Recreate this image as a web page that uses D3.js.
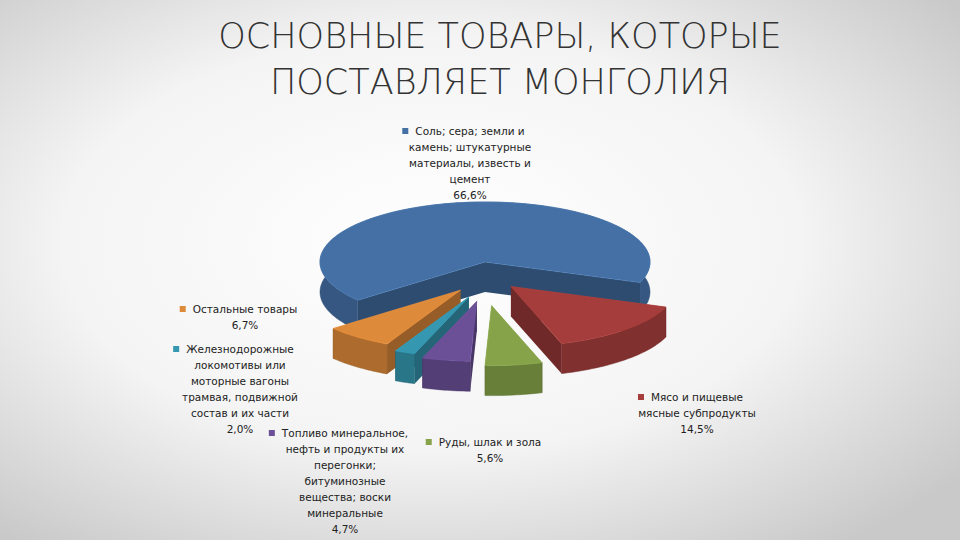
<!DOCTYPE html>
<html>
<head>
<meta charset="utf-8">
<script src="https://cdn.jsdelivr.net/npm/d3@7"></script>
<style>body{margin:0;}</style>
</head>
<body>
<script>
// данные
var names = ["Мясо и пищевые мясные субпродукты", "Руды, шлак и зола",
  "Топливо минеральное, нефть и продукты их перегонки; битуминозные вещества; воски минеральные",
  "Железнодорожные локомотивы или моторные вагоны трамвая, подвижной состав и их части",
  "Остальные товары", "Соль; сера; земли и камень; штукатурные материалы, известь и цемент"];
var values = [14.5, 5.6, 4.7, 2.0, 6.7, 66.6];
var labelLines = [
  ["Мясо и пищевые", "мясные субпродукты", "14,5%"],
  ["Руды, шлак и зола", "5,6%"],
  ["Топливо минеральное,", "нефть и продукты их", "перегонки;", "битуминозные", "вещества; воски", "минеральные", "4,7%"],
  ["Железнодорожные", "локомотивы или", "моторные вагоны", "трамвая, подвижной", "состав и их части", "2,0%"],
  ["Остальные товары", "6,7%"],
  ["Соль; сера; земли и", "камень; штукатурные", "материалы, известь и", "цемент", "66,6%"]
];
var colors = ["#a43d3b", "#86a34a", "#6b5097", "#3597b0", "#de8a3b", "#4470a6"];

var width = 960, height = 540;
var cx = 485, cy = 262, rx = 165, ry = 60, depth = 30;
var explode = [34, 44, 40, 38, 36, 0];
var labelPos = [[697, 401], [490, 446], [345, 437], [240, 353], [245, 313], [470, 135]];

var svg = d3.select("body").append("svg").attr("width", width).attr("height", height);
var defs = svg.append("defs");
var bg = defs.append("radialGradient").attr("id", "bg").attr("cx", "45%").attr("cy", "45%").attr("r", "70%");
bg.append("stop").attr("offset", "0%").attr("stop-color", "#ffffff");
bg.append("stop").attr("offset", "55%").attr("stop-color", "#f4f4f4");
bg.append("stop").attr("offset", "100%").attr("stop-color", "#c9c9c9");
svg.append("rect").attr("width", width).attr("height", height).attr("fill", "url(#bg)");

["ОСНОВНЫЕ ТОВАРЫ, КОТОРЫЕ", "ПОСТАВЛЯЕТ МОНГОЛИЯ"].forEach(function(s, k) {
  svg.append("text").attr("x", 500).attr("y", 48 + k * 46).attr("text-anchor", "middle")
    .attr("font-family", "DejaVu Sans").attr("font-size", 35).attr("fill", "#333")
    .attr("font-weight", 200).text(s);
});

var start = 110 * Math.PI / 180;
var pie = d3.pie().sort(null).startAngle(start).endAngle(start + 2 * Math.PI);
var arcs = pie(values);

function pt(a, r, ox, oy, dz) {
  return [ox + rx * r * Math.sin(a), oy - ry * r * Math.cos(a) + dz];
}
var line = d3.line();

arcs.forEach(function(d, i) {
  var mid = (d.startAngle + d.endAngle) / 2;
  d.ox = cx + explode[i] * Math.sin(mid) * 1.1;
  d.oy = cy - explode[i] * Math.cos(mid) * 1.0;
  d.mid = mid;
  var n = Math.max(4, Math.ceil((d.endAngle - d.startAngle) / 0.02));
  d.top = d3.range(n + 1).map(function(k) {
    return d.startAngle + (d.endAngle - d.startAngle) * k / n;
  });
});

var order = arcs.map(function(d, i) { return i; });
order.sort(function(a, b) { return (-Math.cos(arcs[a].mid)) - (-Math.cos(arcs[b].mid)); });

var g = svg.append("g");
order.forEach(function(i) {
  var d = arcs[i];
  var c = d3.color(colors[i]);
  var side = c.darker(1.1), wall = c.darker(0.7);
  [d.startAngle, d.endAngle].forEach(function(a) {
    g.append("path").attr("fill", side)
      .attr("d", line([[d.ox, d.oy], pt(a, 1, d.ox, d.oy, 0), pt(a, 1, d.ox, d.oy, depth), [d.ox, d.oy + depth]]) + "Z");
  });
  var topPts = d.top.map(function(a) { return pt(a, 1, d.ox, d.oy, 0); });
  var botPts = d.top.map(function(a) { return pt(a, 1, d.ox, d.oy, depth); }).reverse();
  g.append("path").attr("fill", wall).attr("stroke", wall.darker(0.3)).attr("stroke-width", 0.5)
    .attr("d", line(topPts.concat(botPts)) + "Z");
});
order.forEach(function(i) {
  var d = arcs[i];
  var c = d3.color(colors[i]);
  var topPts = [[d.ox, d.oy]].concat(d.top.map(function(a) { return pt(a, 1, d.ox, d.oy, 0); }));
  g.append("path").attr("fill", c).attr("stroke", c.brighter(0.3)).attr("stroke-width", 0.6)
    .attr("d", line(topPts) + "Z");
});

// подписи
arcs.forEach(function(d, i) {
  var lp = labelPos[i];
  var t = svg.append("text").attr("font-family", "DejaVu Sans").attr("font-size", 10.5)
    .attr("fill", "#222").attr("text-anchor", "middle");
  labelLines[i].forEach(function(s, k) {
    t.append("tspan").attr("x", lp[0]).attr("y", lp[1] + k * 16).text(s);
  });
  var firstW = t.select("tspan").node().getComputedTextLength();
  svg.append("rect").attr("x", lp[0] - firstW / 2 - 13).attr("y", lp[1] - 7).attr("width", 6).attr("height", 6)
    .attr("fill", colors[i]);
});
</script>
</body>
</html>
